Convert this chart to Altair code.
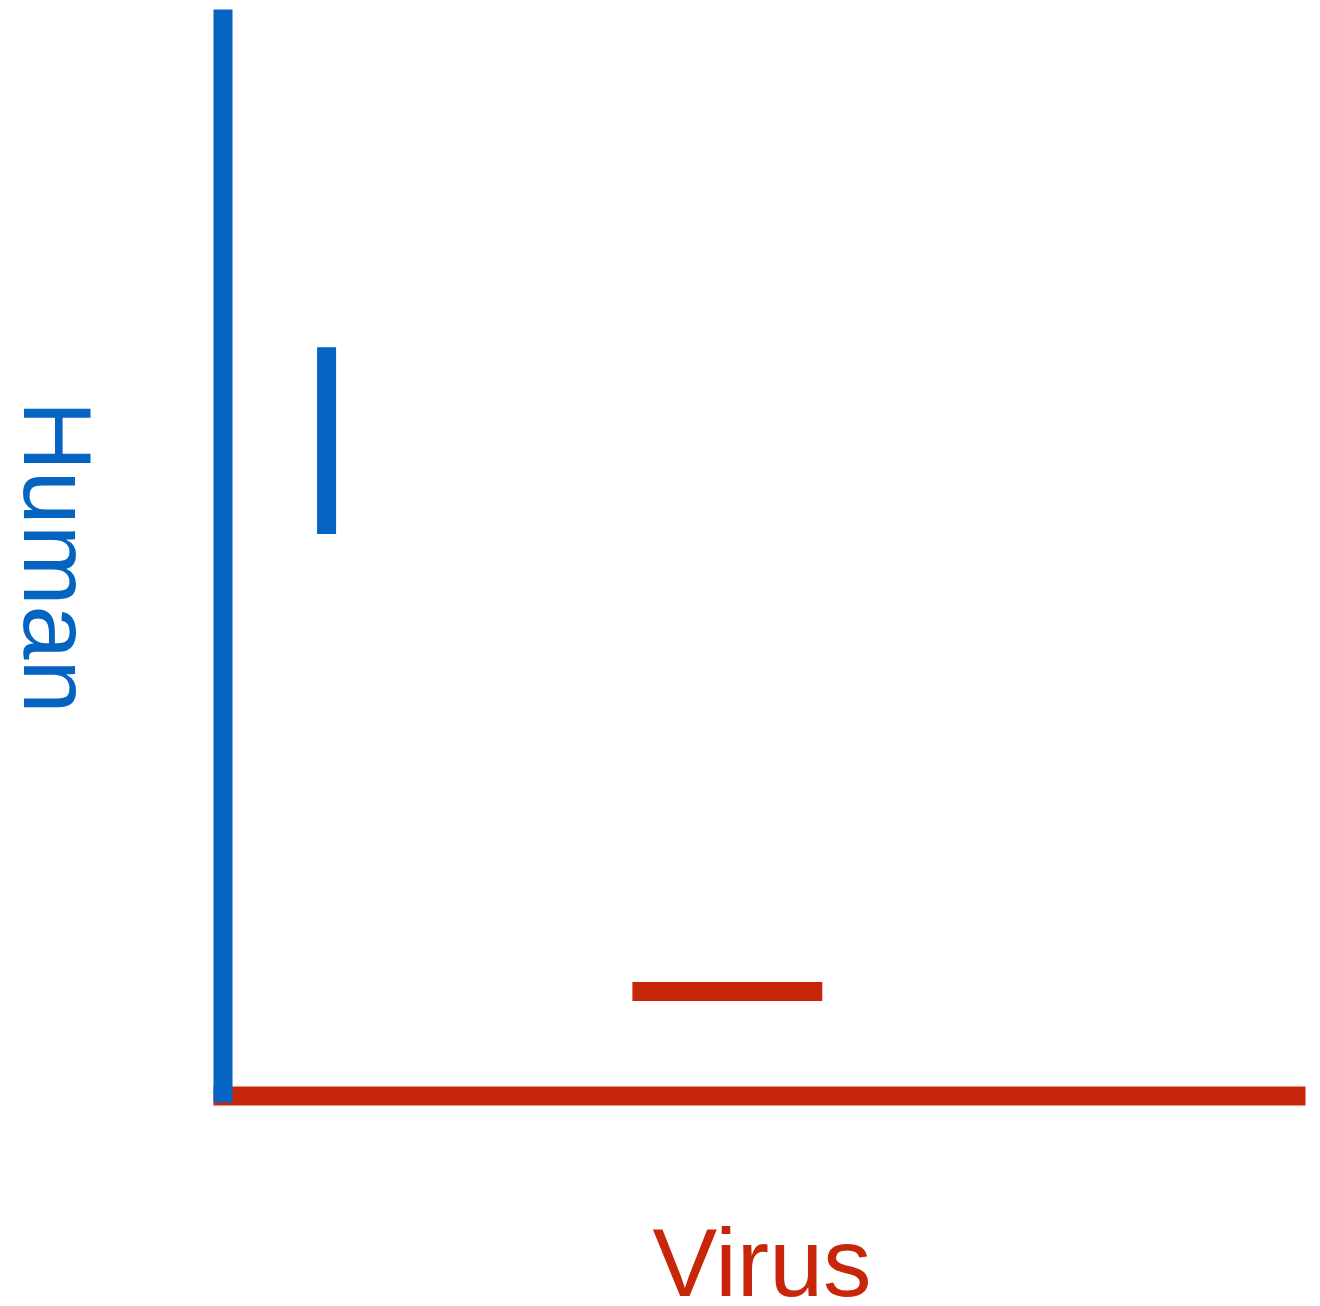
import altair as alt
import pandas as pd

# Conceptual diagram: two axes (Human, Virus) and two short bars
side = ["Human", "Virus"]
side_colors = ["#0563C1", "#C8260A"]

seg_side = ["Human", "Virus"]
seg_x = [9.7, 38.2]
seg_x2 = [9.7, 55.9]
seg_y = [52.0, 9.4]
seg_y2 = [69.4, 9.4]

df = pd.DataFrame({"side": seg_side, "x": seg_x, "x2": seg_x2, "y": seg_y, "y2": seg_y2})

FONT = "Liberation Sans"
BLUE, RED = side_colors

chart = alt.Chart(df).mark_rule(strokeWidth=19, strokeCap="butt").encode(
    x=alt.X("x:Q", scale=alt.Scale(domain=[0, 100], nice=False, zero=False),
            axis=alt.Axis(title="Virus", labels=False, ticks=False, grid=False,
                          domainColor=RED, domainWidth=19, domainCap="square",
                          offset=3, titleFontSize=97, titleColor=RED, titleFont=FONT,
                          titleFontWeight="normal", titleBaseline="alphabetic",
                          titleX=539, titleY=199.5, zindex=0)),
    x2="x2:Q",
    y=alt.Y("y:Q", scale=alt.Scale(domain=[0, 100], nice=False, zero=False),
            axis=alt.Axis(title="Human", labels=False, ticks=False, grid=False,
                          domainColor=BLUE, domainWidth=19, domainCap="square",
                          titleFontSize=97, titleColor=BLUE, titleFont=FONT,
                          titleFontWeight="normal", titleAngle=90,
                          titleBaseline="alphabetic", titleAlign="center",
                          titleX=-199.5, titleY=538, zindex=1)),
    y2="y2:Q",
    color=alt.Color("side:N", scale=alt.Scale(domain=side, range=side_colors), legend=None),
).properties(
    width=1073,
    height=1074,
    background="white",
    autosize=alt.AutoSizeParams(type="none"),
    padding={"left": 214.5, "top": 10.5, "right": 12, "bottom": 206},
).configure_view(strokeWidth=0, strokeOpacity=0)

chart.save("out.html", embed_options={"renderer": "svg", "actions": False})
